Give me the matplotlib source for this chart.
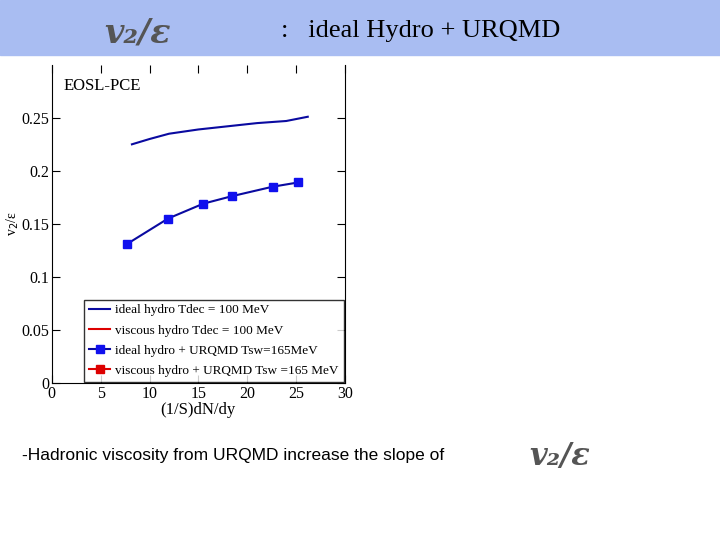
import matplotlib.pyplot as plt

# ideal hydro (line only)
hydro_x = [8.2, 10.0, 12.0, 15.0, 18.0, 21.0, 24.0, 26.2]
hydro_y = [0.225, 0.230, 0.235, 0.239, 0.242, 0.245, 0.247, 0.251]
# ideal hydro + URQMD
urqmd_x = [7.7, 11.9, 15.5, 18.4, 22.6, 25.2]
urqmd_y = [0.131, 0.155, 0.169, 0.176, 0.185, 0.189]

x_ticks = [0, 5, 10, 15, 20, 25, 30]
y_ticks = [0, 0.05, 0.1, 0.15, 0.2, 0.25]
y_ticklabels = ['0', '0.05', '0.1', '0.15', '0.2', '0.25']

fig = plt.figure(figsize=(7.2, 5.4), dpi=100)
fig.patch.set_facecolor('white')

# header band
fig.patches.append(plt.Rectangle((0, 0.898), 1, 0.102, transform=fig.transFigure,
                                 color='#a9bdf2', zorder=0))
fig.text(0.145, 0.938, 'v\u2082/\u03b5', fontsize=24, color='#555555', style='italic',
         fontweight='bold', family='DejaVu Serif', ha='left', va='center')
fig.text(0.39, 0.942, ':   ideal Hydro + URQMD', fontsize=19, family='Liberation Serif',
         ha='left', va='center')

ax = fig.add_axes([0.072, 0.291, 0.407, 0.589])
ax.plot(hydro_x, hydro_y, color='#0a0aa0', lw=1.5, label='ideal hydro Tdec = 100 MeV')
ax.plot([], [], color='#dd0000', lw=1.5, label='viscous hydro Tdec = 100 MeV')
ax.plot(urqmd_x, urqmd_y, color='#0a0aa0', lw=1.5, marker='s', ms=6,
        mfc='#1010ee', mec='#1010ee', label='ideal hydro + URQMD Tsw=165MeV')
ax.plot([], [], color='#dd0000', lw=1.5, marker='s', ms=6,
        label='viscous hydro + URQMD Tsw =165 MeV')
ax.set_xlim(0, 30)
ax.set_ylim(0, 0.3)
ax.set_xticks(x_ticks)
ax.set_yticks(y_ticks)
ax.set_yticklabels(y_ticklabels)
ax.tick_params(direction='in', top=True, right=True, labelsize=11.5, length=6, pad=2)
for lab in ax.get_xticklabels() + ax.get_yticklabels():
    lab.set_family('Liberation Serif')
ax.spines['top'].set_visible(False)
ax.set_xlabel('(1/S)dN/dy', family='Liberation Serif', fontsize=12, labelpad=0)
ax.set_ylabel('v$_2$/\u03b5', family='Liberation Serif', fontsize=10)
ax.yaxis.set_label_coords(-0.105, 0.5)
ax.text(1.2, 0.28, 'EOSL-PCE', family='Liberation Serif', fontsize=12, va='center')
leg = ax.legend(loc='lower right', prop={'family': 'Liberation Serif', 'size': 9.5},
                frameon=True, fancybox=False, edgecolor='black', borderaxespad=0.1,
                handlelength=1.6, labelspacing=0.6, borderpad=0.35, handletextpad=0.4)
leg.get_frame().set_linewidth(1)

fig.text(0.03, 0.157, '-Hadronic viscosity from URQMD increase the slope of',
         fontsize=12.5, family='Liberation Sans', va='center')
fig.text(0.735, 0.155, 'v\u2082/\u03b5', fontsize=22, color='#555555', style='italic',
         fontweight='bold', family='DejaVu Serif', va='center')

fig.savefig('out.png', dpi=100)
